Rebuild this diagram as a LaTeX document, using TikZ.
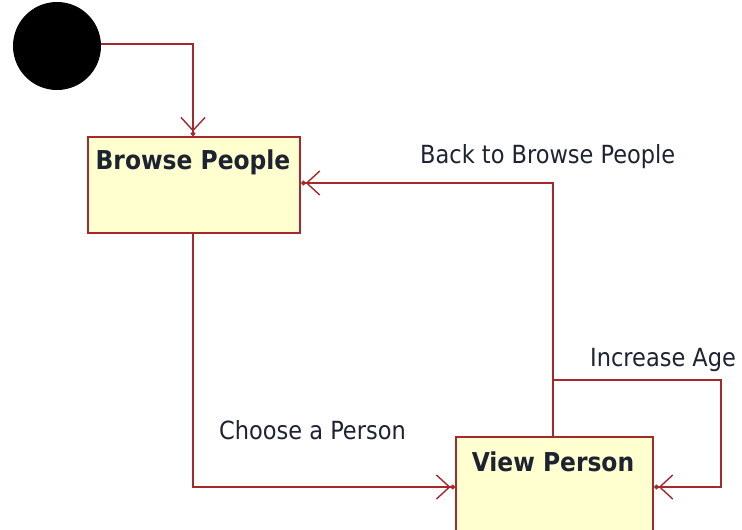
\documentclass[tikz,border=0pt]{standalone}
\usepackage{fontspec}
\setmainfont{DejaVu Sans Condensed}
\usetikzlibrary{arrows.meta}
\definecolor{edgered}{RGB}{165,40,45}
\definecolor{statefill}{RGB}{255,255,208}
\definecolor{labelink}{RGB}{30,35,50}
\tikzset{
  every node/.style={font=\fontsize{25}{30}\selectfont},
  statebox/.style={draw=edgered, fill=statefill, line width=2.2pt, anchor=north west},
  statename/.style={font=\fontsize{26}{30}\selectfont\bfseries, text=labelink},
  flow/.style={draw=edgered, line width=1.9pt,
    -{Straight Barb[length=13pt,width=24pt,line width=1.4pt]Circle[length=4.5pt]}},
  lbl/.style={text=labelink, anchor=west, inner sep=0pt}
}
\begin{document}
\begin{tikzpicture}[x=1pt,y=-1pt]
  \useasboundingbox (0,0) rectangle (742,530);
  % initial pseudo-state
  \node[circle, fill=black, minimum size=88pt, inner sep=0pt] (init) at (57,46) {};
  % states
  \node[statebox, minimum width=212pt, minimum height=96pt] (browse) at (87,136) {};
  \node[statename] (browseT) at (193,162) {Browse People};
  \node[statebox, minimum width=197pt, minimum height=110pt] (view) at (455,436) {};
  \node[statename] (viewT) at (553,462) {View Person};
  % junction points
  \coordinate (j1) at (193,44);
  \coordinate (j2) at (193,487);
  \coordinate (j3) at (553,183);
  \coordinate (j4) at (553,380);
  \coordinate (j5) at (721,380);
  \coordinate (j6) at (721,487);
  % transitions
  \draw[flow] (init.east |- j1) -- (j1) -- (browse.north -| j1);
  \draw[flow] (browse.south -| j2) -- (j2) -- (view.west |- j2);
  \draw[flow] (view.north -| j3) -- (j3) -- (browse.east |- j3);
  \draw[flow] (j4) -- (j5) -- (j6) -- (view.east |- j6);
  % labels
  \node[lbl] (l1) at (420,157) {Back to Browse People};
  \node[lbl] (l2) at (590,360) {Increase Age};
  \node[lbl] (l3) at (219,430) {Choose a Person};
\end{tikzpicture}
\end{document}
